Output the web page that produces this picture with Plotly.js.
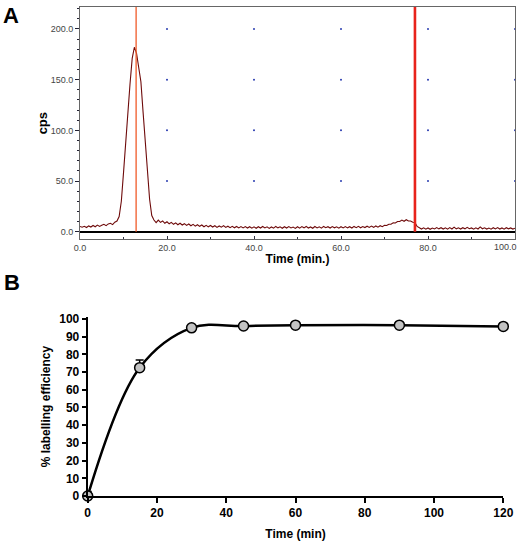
<!DOCTYPE html>
<html>
<head>
<meta charset="utf-8">
<script src="https://cdn.plot.ly/plotly-3.0.1.min.js"></script>
<style>html,body{margin:0;padding:0;background:#fff;}#chart{width:523px;height:544px;}</style>
</head>
<body>
<div id="chart"></div>
<script>
// ---------- Panel A: radio-chromatogram ----------
const timeA = [
 0,0.5,1,1.5,2,2.5,3,3.5,4,4.5,5,5.5,6,6.5,7,7.5,8,8.5,9,9.5,
 10,10.5,11,11.5,12,12.5,13,13.5,14,14.5,15,15.5,16,16.5,17,17.5,18,18.5,19,19.5,
 20,20.5,21,21.5,22,22.5,23,23.5,24,24.5,25,25.5,26,26.5,27,27.5,28,28.5,29,29.5,
 30,30.5,31,31.5,32,32.5,33,33.5,34,34.5,35,35.5,36,36.5,37,37.5,38,38.5,39,39.5,
 40,40.5,41,41.5,42,42.5,43,43.5,44,44.5,45,45.5,46,46.5,47,47.5,48,48.5,49,49.5,
 50,50.5,51,51.5,52,52.5,53,53.5,54,54.5,55,55.5,56,56.5,57,57.5,58,58.5,59,59.5,
 60,60.5,61,61.5,62,62.5,63,63.5,64,64.5,65,65.5,66,66.5,67,67.5,68,68.5,69,69.5,
 70,70.5,71,71.5,72,72.5,73,73.5,74,74.5,75,75.5,76,76.5,77,77.5,78,78.5,79,79.5,
 80,80.5,81,81.5,82,82.5,83,83.5,84,84.5,85,85.5,86,86.5,87,87.5,88,88.5,89,89.5,
 90,90.5,91,91.5,92,92.5,93,93.5,94,94.5,95,95.5,96,96.5,97,97.5,98,98.5,99,99.5,100
];
const cpsA = [
 5.2,4.4,5.3,4.1,5.7,4.6,6.1,4.9,6.5,5.2,6.3,7.3,6.0,7.7,8.3,7.0,9.4,10.5,15,30,
 58,90,116,146,171,182,176,163,148,118,88,60,32,16,11.5,9.0,11.4,9.2,10.6,8.3,
 9.8,7.8,9.2,7.3,8.7,6.9,8.3,6.6,7.9,6.2,7.6,5.9,7.2,5.5,6.9,5.3,6.6,4.9,6.3,4.8,
 6.1,4.6,5.9,4.3,5.7,4.5,6.0,4.2,5.4,4.0,5.3,3.9,5.2,3.8,5.1,3.7,5.0,3.6,4.9,3.5,
 4.8,3.4,4.9,3.6,5.1,3.7,4.8,3.3,4.7,3.5,5.2,3.8,4.8,3.4,4.9,3.6,5.0,3.7,4.6,3.3,
 4.9,3.5,5.0,3.8,5.2,3.6,4.7,3.4,5.1,3.7,4.8,3.5,5.2,3.9,4.9,3.6,5.0,3.8,4.8,3.5,
 4.9,3.7,5.1,3.8,4.9,3.6,5.2,4.0,5.3,3.9,5.1,4.1,5.4,4.2,5.5,4.3,5.7,4.5,5.9,4.9,
 6.3,6.1,7.4,7.3,8.7,8.6,10.1,10.0,11.5,10.3,11.8,10.5,10.5,9.3,9.1,5.2,3.6,2.6,3.8,2.5,
 3.7,2.4,3.6,2.7,4.1,2.8,3.9,2.6,3.8,2.5,4.0,2.7,4.5,2.8,3.8,2.6,3.9,2.8,4.3,2.9,
 3.7,2.5,3.8,2.7,4.7,2.9,3.9,2.6,3.6,2.5,3.9,2.7,4.0,2.6,3.7,2.5,3.9,2.8,3.7,2.6,3.5
];
const markerTimesA = [12.9, 77.0];          // vertical marker lines (min)
const tickValsXA = [0,20,40,60,80,100];
const tickValsYA = [0,50,100,150,200];

// ---------- Panel B: labelling efficiency ----------
const timeB = [0,15,30,45,60,90,120];
const effB = [0,72.5,95,96,96.5,96.5,95.8];
const errPlusB = [2.5,4.3,0,0,0,0,0];

// grid dots of panel A built from its tick arrays
const dotX = [], dotY = [];
tickValsXA.filter(v => v > 0).forEach(xv => {
  tickValsYA.filter(v => v > 0).forEach(yv => { dotX.push(xv); dotY.push(yv); });
});

const FONT = 'Arial, "Liberation Sans", sans-serif';
const lastXA = tickValsXA[tickValsXA.length - 1];
// last x label of panel A is right-aligned at its tick (as in the original) via an annotation
const tickTextXA = tickValsXA.map(v => v === lastXA ? '' : v.toFixed(1));

const traces = [
  {x: dotX, y: dotY, xaxis:'x', yaxis:'y', mode:'markers', type:'scatter',
   marker:{size:2, color:'#2a3cb0'}, hoverinfo:'skip'},
  {x: timeA, y: cpsA, xaxis:'x', yaxis:'y', mode:'lines', type:'scatter',
   line:{color:'#6e0a0a', width:1.1}},
  {x: timeB, y: effB, xaxis:'x2', yaxis:'y2', mode:'lines+markers', type:'scatter',
   line:{color:'#000', width:2.5, shape:'spline', smoothing:1.0},
   marker:{size:10, color:'#c3c3c3', line:{color:'#000', width:1.5}},
   error_y:{type:'data', array: errPlusB, arrayminus: errPlusB.map(() => 0),
            color:'#000', thickness:1.5, width:4},
   cliponaxis:false}
];

const layout = {
  width:523, height:544,
  margin:{l:0, r:0, t:0, b:0},
  paper_bgcolor:'#fff', plot_bgcolor:'#fff',
  showlegend:false,
  font:{family:FONT, color:'#000'},
  xaxis:{
    domain:[80/523, 515/523], range:[0,100], anchor:'y',
    showgrid:false, zeroline:false,
    showline:true, mirror:true, linecolor:'#666', linewidth:1,
    tickvals: tickValsXA, ticktext: tickTextXA,
    ticks:'inside', ticklen:3, tickcolor:'#334',
    minor:{dtick:10, tick0:0, ticks:'inside', ticklen:2, tickcolor:'#334', showgrid:false},
    tickfont:{size:9, color:'#444', family:FONT},
    title:{text:'Time (min.)', font:{size:12, weight:'bold', family:FONT}, standoff:2}
  },
  yaxis:{
    domain:[(544-239.3)/544, (544-7)/544], range:[-7.5,221.7], anchor:'x',
    showgrid:false, zeroline:true, zerolinecolor:'#000', zerolinewidth:2,
    showline:true, mirror:true, linecolor:'#666', linewidth:1,
    tickvals: tickValsYA, ticktext: tickValsYA.map(v => v.toFixed(1)),
    ticks:'outside', ticklen:4, tickcolor:'#223',
    minor:{dtick:10, tick0:0, ticks:'outside', ticklen:2, tickcolor:'#223', showgrid:false},
    tickfont:{size:9, color:'#444', family:FONT},
    title:{text:'cps', font:{size:13, weight:'bold', family:FONT}, standoff:0}
  },
  xaxis2:{
    domain:[87.7/523, 503.3/523], range:[0,120], anchor:'y2',
    showgrid:false, zeroline:false,
    showline:true, linecolor:'#000', linewidth:2,
    dtick:20, tick0:0, ticks:'outside', ticklen:5, tickwidth:2, tickcolor:'#000',
    tickfont:{size:12, weight:'bold', family:FONT},
    ticklabeloverflow:'allow',
    title:{text:'Time (min)', font:{size:12, weight:'bold', family:FONT}, standoff:10}
  },
  yaxis2:{
    domain:[(544-496)/544, (544-317.2)/544], range:[0,101], anchor:'x2',
    showgrid:false, zeroline:false,
    showline:true, linecolor:'#000', linewidth:2,
    dtick:10, tick0:0, ticks:'outside', ticklen:4, tickwidth:2, tickcolor:'#000',
    tickfont:{size:12, weight:'bold', family:FONT},
    title:{text:'% labelling efficiency', font:{size:12, weight:'bold', family:FONT}, standoff:6}
  },
  shapes: markerTimesA.map((t, i) => ({
    type:'line', xref:'x', yref:'y', x0:t, x1:t, y0:0, y1:228,
    line:{color: i === 0 ? '#f05a28' : '#e8231c', width: i === 0 ? 1.3 : 2.6},
    layer:'above'
  })),
  annotations:[
    {text:'<b>A</b>', xref:'paper', yref:'paper', x:11/523, y:1-15/544,
     showarrow:false, font:{size:22, family:FONT}, xanchor:'center', yanchor:'middle'},
    {text:'<b>B</b>', xref:'paper', yref:'paper', x:12/523, y:1-282/544,
     showarrow:false, font:{size:22, family:FONT}, xanchor:'center', yanchor:'middle'},
    {text: lastXA.toFixed(1), xref:'x', yref:'y domain', x:lastXA, y:0,
     xanchor:'right', yanchor:'top', xshift:4, yshift:-1, showarrow:false,
     font:{size:9, color:'#444', family:FONT}}
  ]
};

Plotly.newPlot('chart', traces, layout, {displayModeBar:false, staticPlot:true});
</script>
</body>
</html>
